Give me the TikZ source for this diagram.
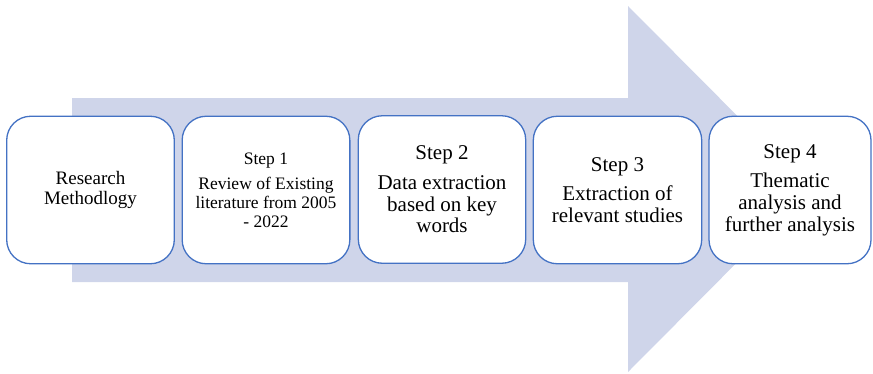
\documentclass[tikz,border=0pt]{standalone}
\usepackage{fontspec}
\setmainfont{Liberation Serif}
\definecolor{arrowfill}{RGB}{207,213,234}
\definecolor{boxline}{RGB}{68,114,196}
\begin{document}
\begin{tikzpicture}[x=1pt,y=-1pt,
  stepbox/.style={draw=boxline, line width=1.3pt, fill=white, rounded corners=24pt,
    minimum height=147.5pt, align=center, inner sep=2pt},
  smalltext/.style={font=\fontsize{17.5}{19}\selectfont},
  bigtext/.style={font=\fontsize{21}{21.7}\selectfont}]
\useasboundingbox (0,0) rectangle (873,373);
\fill[arrowfill] (72,98) -- (628,98) -- (628,6) -- (810,189) -- (628,372) -- (628,282) -- (72,282) -- cycle;
\node[stepbox, font=\fontsize{19}{20.7}\selectfont, minimum width=167.6pt] (b1) at (90.5,190)
  {Research\\Methodlogy};
\node[stepbox, smalltext, minimum width=167.7pt] (b2) at (266,190)
  {Step 1\\[6pt]Review of Existing\\literature from 2005\\- 2022};
\node[stepbox, bigtext, minimum width=167.4pt] (b3) at (442,189.5)
  {Step 2\\[8pt]Data extraction\\based on key\\words};
\node[stepbox, bigtext, minimum width=168.4pt] (b4) at (617.5,190)
  {Step 3\\[7pt]Extraction of\\relevant studies};
\node[stepbox, bigtext, minimum width=162pt] (b5) at (790,190)
  {Step 4\\[8pt]Thematic\\analysis and\\further analysis};
\end{tikzpicture}
\end{document}
